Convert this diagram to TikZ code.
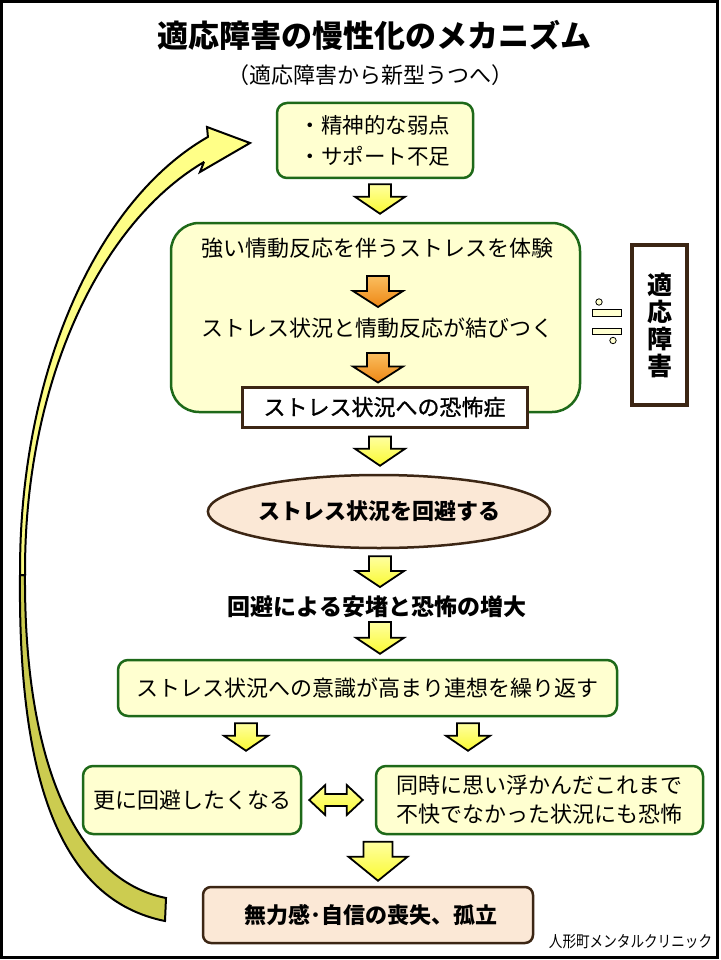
\documentclass[tikz,border=0pt]{standalone}
\usepackage{fontspec}
\setmainfont{Noto Sans CJK JP}
\newfontfamily\semibold[FakeBold=1.2]{Noto Sans CJK JP}
\usetikzlibrary{calc,shapes.geometric}

\definecolor{gborder}{RGB}{30,105,25}
\definecolor{gfill}{RGB}{255,255,208}
\definecolor{bborder}{RGB}{60,38,20}
\definecolor{peach}{RGB}{251,232,214}
\definecolor{ayel}{RGB}{250,250,50}
\definecolor{ayeltop}{RGB}{255,255,160}
\definecolor{aorg}{RGB}{238,135,20}
\definecolor{aorgtop}{RGB}{250,190,95}
\definecolor{cvtop}{RGB}{255,255,135}
\definecolor{cvbot}{RGB}{204,204,80}

\tikzset{
  txt/.style={font=\fontsize{22}{30}\selectfont, inner sep=0pt},
  gbox/.style={draw=gborder, line width=2.5pt, fill=gfill, rounded corners=10pt,
    inner sep=0pt, align=center, font=\fontsize{22}{29}\selectfont},
  pbox/.style={draw=bborder, line width=2.5pt, fill=peach, inner sep=0pt,
    font=\fontsize{22}{30}\selectfont\bfseries},
  blkd/.style n args={3}{to path={let \p1=(\tikztostart), \p2=(\tikztotarget) in
    (\x1-#1pt,\y1) -- (\x1+#1pt,\y1) -- (\x1+#1pt,\y2+#3pt) -- (\x1+#2pt,\y2+#3pt)
    -- (\x1,\y2) -- (\x1-#2pt,\y2+#3pt) -- (\x1-#1pt,\y2+#3pt) -- cycle}},
  blkh/.style n args={3}{to path={let \p1=(\tikztostart), \p2=(\tikztotarget) in
    (\x1,\y1) -- (\x1+#3pt,\y1+#2pt) -- (\x1+#3pt,\y1+#1pt) -- (\x2-#3pt,\y1+#1pt)
    -- (\x2-#3pt,\y1+#2pt) -- (\x2,\y1) -- (\x2-#3pt,\y1-#2pt) -- (\x2-#3pt,\y1-#1pt)
    -- (\x1+#3pt,\y1-#1pt) -- (\x1+#3pt,\y1-#2pt) -- cycle}},
  yarr/.style={draw=black, line width=1.8pt, line join=miter, top color=ayeltop, bottom color=ayel},
  oarr/.style={draw=black, line width=1.8pt, line join=miter, top color=aorgtop, bottom color=aorg},
  curve/.style={draw=black, line width=2pt, line join=miter},
}

\begin{document}
\begin{tikzpicture}[x=1pt,y=-1pt]
\useasboundingbox (0,0) rectangle (720,960);
\fill[white] (0,0) rectangle (720,960);
\draw[line width=3pt] (1.5,1.5) rectangle (717.5,957);

% title
\node[font=\fontsize{31}{31}\selectfont\bfseries, inner sep=0pt] (title) at (374,35) {適応障害の慢性化のメカニズム};
\node[font=\fontsize{22}{22}\selectfont, inner sep=0pt] (sub) at (370,75) {（適応障害から新型うつへ）};

% big curved arrow
\path[curve, fill=cvbot] (20,575) .. controls (18,780) and (60,900) .. (165,921)
  -- (166,898) .. controls (75,880) and (24,760) .. (25,575) -- cycle;
\path[curve, top color=cvtop, bottom color=cvtop!90!cvbot] (20,575)
  -- plot[domain=180:250.8, samples=50] ({300+280*cos(\x)},{570+458.6*sin(\x)})
  -- (207,127) -- (250,143) -- (200,172) -- (204,162)
  -- plot[domain=249.6:180, samples=50] ({300+275*cos(\x)},{570+435.4*sin(\x)})
  -- (25,575) -- cycle;

% box 1
\node[gbox, align=left, font=\fontsize{21.5}{31}\selectfont, minimum width=196pt, minimum height=75pt] (b1) at (375,140.5) {・精神的な弱点\\・サポート不足};

% big box
\node[gbox, rounded corners=28pt, minimum width=409pt, minimum height=189pt] (b2) at (375.5,317.5) {};
\node[txt] (t1) at (377,248) {強い情動反応を伴うストレスを体験};
\node[txt] (t2) at (377,328) {ストレス状況と情動反応が結びつく};
\node[draw=bborder, line width=3pt, fill=white, minimum width=285pt, minimum height=40pt, inner sep=0pt,
  font=\fontsize{22}{30}\semibold] (phob) at (384.5,407) {ストレス状況への恐怖症};

% side box
\node[draw=bborder, line width=4pt, fill=white, minimum width=55pt, minimum height=160pt, inner sep=0pt,
  align=center, font=\fontsize{25}{27}\selectfont\bfseries] (side) at (659.5,325) {適\\応\\障\\害};

% approx-equal sign
\filldraw[fill=gfill, draw=black, line width=0.8pt] (592,309) rectangle (621,316);
\filldraw[fill=gfill, draw=black, line width=0.8pt] (592,328) rectangle (621,334);
\filldraw[fill=gfill, draw=black, line width=0.8pt] (599,302) circle[radius=3.2];
\filldraw[fill=gfill, draw=black, line width=0.8pt] (613,340.5) circle[radius=3.2];

% ellipse
\node[pbox, ellipse, minimum width=342pt, minimum height=73pt] (ell) at (379,511.5) {ストレス状況を回避する};

\node[font=\fontsize{23}{30}\selectfont\bfseries, inner sep=0pt] (t3) at (377,607) {回避による安堵と恐怖の増大};

\node[gbox, minimum width=499pt, minimum height=56pt] (b3) at (367.5,688) {ストレス状況への意識が高まり連想を繰り返す};

\node[gbox, minimum width=218pt, minimum height=68pt] (b4) at (192,800) {更に回避したくなる};
\node[gbox, minimum width=327pt, minimum height=68pt] (b5) at (539.5,800) {同時に思い浮かんだこれまで\\不快でなかった状況にも恐怖};

\node[pbox, rounded corners=8pt, minimum width=330pt, minimum height=56pt] (b6) at (368,915) {\hspace{6pt}無力感･自信の喪失、孤立};

\node[inner sep=0pt, font=\fontsize{16}{16}\selectfont] (credit) at (630.5,942) {\scalebox{0.85}[1]{人形町メンタルクリニック}};

% block arrows
\draw[yarr, blkd={11}{25}{17}] ($(b1.south)+(5,5)$) to ($(b2.north)+(4.5,-8)$);
\draw[oarr, blkd={11}{25}{16}] ($(t1.center)+(1,28)$) to ($(t2.center)+(1,-21)$);
\draw[oarr, blkd={11}{25}{16}] ($(t2.center)+(1,25)$) to ($(phob.north)+(-6.5,-3)$);
\draw[yarr, blkd={11}{25}{17}] ($(phob.south)+(-4.5,8)$) to ($(ell.north)+(1,-8)$);
\draw[yarr, blkd={11}{24}{16}] ($(ell.south)+(1,7)$) to ($(t3.center)+(3,-20)$);
\draw[yarr, blkd={11}{24}{16}] ($(t3.center)+(3,15)$) to ($(b3.north)+(12.5,-5)$);
\draw[yarr, blkd={11}{22}{15}] ($(b3.south)+(-121.5,6)$) to ($(b4.north)+(54,-14)$);
\draw[yarr, blkd={11}{22}{15}] ($(b3.south)+(100.5,6)$) to ($(b5.north)+(-71.5,-14)$);
\draw[yarr, blkd={14.5}{29.5}{24}] ($(b6.north)+(10,-44)$) to ($(b6.north)+(10,-5)$);
\draw[yarr, blkh={6}{15}{16}] ($(b4.east)+(7,0)$) to ($(b5.west)+(-12,0)$);
\end{tikzpicture}
\end{document}
